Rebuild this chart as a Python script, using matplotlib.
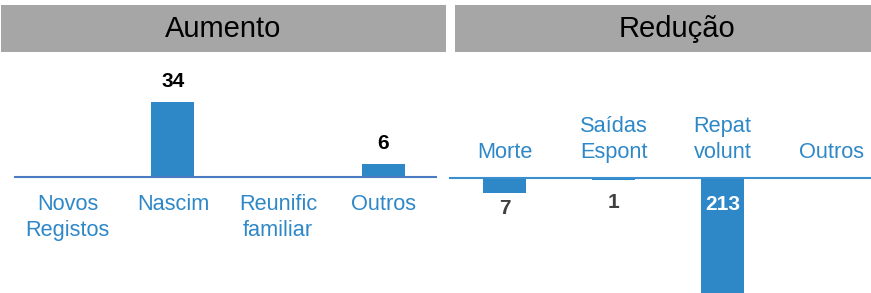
import matplotlib.pyplot as plt
from matplotlib.patches import Rectangle

plt.rcParams['font.family'] = ['Liberation Sans', 'DejaVu Sans']

# Data
inc_labels = ['Novos\nRegistos', 'Nascim', 'Reunific\nfamiliar', 'Outros']
inc_values = [0, 34, 0, 6]
dec_labels = ['Morte', 'Saídas\nEspont', 'Repat\nvolunt', 'Outros']
dec_values = [7, 1, 213, 0]

W, H = 871, 293
bar_color = '#2E88C8'
tick_color = '#2E88C8'
px_per_unit = 2.2

fig = plt.figure(figsize=(W / 100, H / 100), dpi=100)


def fx(px):
    return px / W


def fy(px):
    return 1 - px / H


# header bands
for x0, x1, tx, title in [(1, 446, 223, 'Aumento'), (455, 900, 677, 'Redução')]:
    fig.patches.append(Rectangle((fx(x0), fy(52)), fx(x1 - x0), 47 / H,
                                 transform=fig.transFigure, color='#A6A6A6', lw=0))
    fig.text(fx(tx), fy(29), title, ha='center', va='center', fontsize=21, color='black')

top_px = 55
ax_h = H - top_px

# ---- Aumento ----
base = H - 177
ax1 = fig.add_axes([fx(15), 0, fx(421), ax_h / H])
ax1.bar(range(len(inc_values)), inc_values, width=0.41, color=bar_color)
ax1.set_xlim(-0.5, 3.5)
ax1.set_ylim(-base / px_per_unit, (ax_h - base) / px_per_unit)
for s in ['top', 'left', 'right']:
    ax1.spines[s].set_visible(False)
ax1.spines['bottom'].set_position(('data', 0))
ax1.spines['bottom'].set_color('#4A7CC4')
ax1.spines['bottom'].set_linewidth(1.5)
ax1.set_yticks([])
ax1.set_xticks(range(len(inc_labels)), inc_labels)
ax1.tick_params(axis='x', length=0, pad=12, labelsize=15.7, labelcolor=tick_color)
for t in ax1.get_xticklabels():
    t.set_linespacing(1.32)
for i, v in enumerate(inc_values):
    if v:
        ax1.annotate(str(v), (i, v), xytext=(0, 8), textcoords='offset points',
                     ha='center', va='bottom', fontsize=15, fontweight='bold')

# ---- Redução ----
base = H - 178
ax2 = fig.add_axes([fx(450), 0, fx(436), ax_h / H])
ax2.bar(range(len(dec_values)), [-v for v in dec_values], width=0.40, color=bar_color)
ax2.set_xlim(-0.5, 3.5)
ax2.set_ylim(-base / px_per_unit, (ax_h - base) / px_per_unit)
for s in ['bottom', 'left', 'right']:
    ax2.spines[s].set_visible(False)
ax2.spines['top'].set_position(('data', 0))
ax2.spines['top'].set_color('#3A8FD0')
ax2.spines['top'].set_linewidth(1.5)
ax2.set_yticks([])
ax2.xaxis.tick_top()
ax2.set_xticks(range(len(dec_labels)), dec_labels)
ax2.tick_params(axis='x', length=0, pad=11, labelsize=15.7, labelcolor=tick_color)
for t in ax2.get_xticklabels():
    t.set_linespacing(1.3)
label_dy = [-4, -9, -12]
label_col = ['#404040', '#404040', 'white']
for i, v in enumerate(dec_values):
    if not v:
        continue
    y = -v if i < 2 else 0
    ax2.annotate(str(v), (i, y), xytext=(0, label_dy[i]), textcoords='offset points',
                 ha='center', va='top', fontsize=15, fontweight='bold', color=label_col[i])

fig.savefig('out.png', dpi=100)
